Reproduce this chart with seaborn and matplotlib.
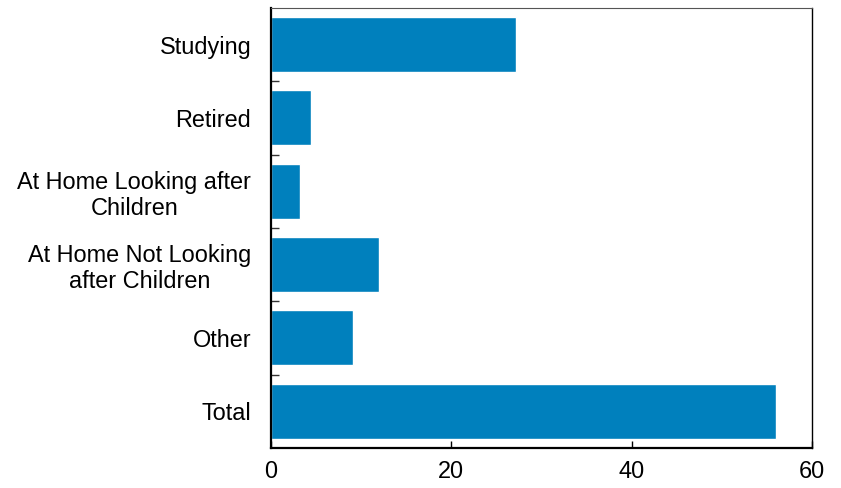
import matplotlib.pyplot as plt
import pandas as pd
import seaborn as sns
from matplotlib.ticker import FixedLocator

categories = [
    "Studying",
    "Retired",
    "At Home Looking after\nChildren",
    "At Home Not Looking\nafter Children",
    "Other",
    "Total",
]
values = [27.2, 4.5, 3.2, 12.0, 9.1, 56.0]

sns.set_theme(style="white")
plt.rcParams["font.family"] = ["Liberation Sans", "DejaVu Sans"]

df = pd.DataFrame({"category": categories, "value": values})

fig = plt.figure(figsize=(8.41, 4.88), dpi=100)
ax = fig.add_axes([0.322, 0.082, 0.6435, 0.9016])

sns.barplot(data=df, y="category", x="value", orient="h", color="#0080BD",
            saturation=1, width=0.75, ax=ax)

ax.set_xlim(0, 60)
ax.set_ylim(5.5, -0.5)
ax.set_xticks([0, 20, 40, 60])
ax.set_xlabel("")
ax.set_ylabel("")

ax.tick_params(axis="x", direction="in", length=5, width=1, pad=9,
               labelsize=16.9, colors="black", bottom=True)
ax.tick_params(axis="y", which="major", length=0, pad=14, labelsize=16.9,
               labelcolor="black")
ax.yaxis.set_minor_locator(FixedLocator([0.5, 1.5, 2.5, 3.5, 4.5]))
ax.tick_params(axis="y", which="minor", direction="in", length=6, width=1,
               color="#333333", left=True)
for lab in ax.get_yticklabels():
    lab.set_multialignment("center")
    lab.set_linespacing(1.15)

for side in ["left", "bottom"]:
    ax.spines[side].set_linewidth(1.6)
    ax.spines[side].set_color("black")
ax.spines["right"].set_linewidth(1.0)
ax.spines["right"].set_color("black")
ax.spines["top"].set_linewidth(0.8)
ax.spines["top"].set_color("#555555")

fig.savefig("out.png", dpi=100)
